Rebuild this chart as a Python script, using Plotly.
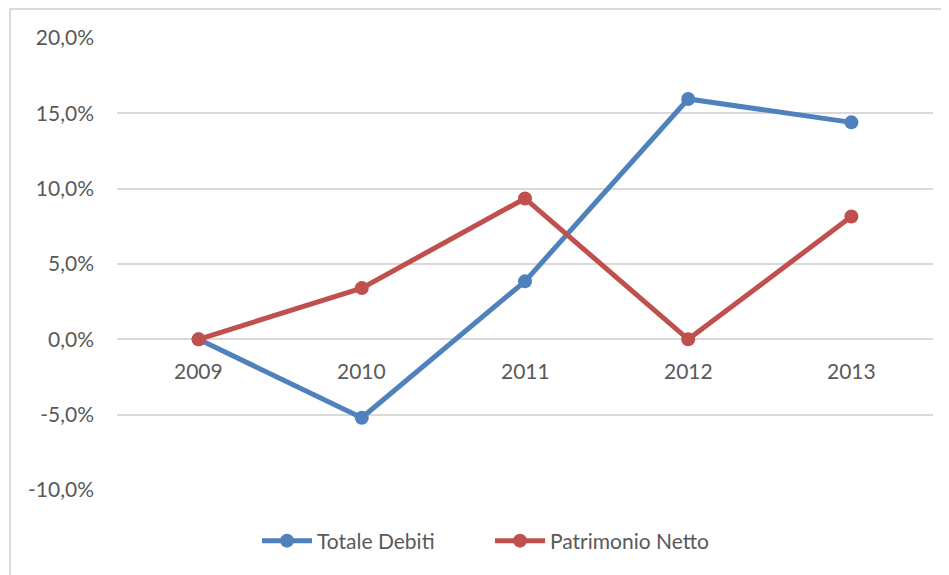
import plotly.graph_objects as go

years = ["2009", "2010", "2011", "2012", "2013"]
totale_debiti = [0.0, -5.2, 3.85, 15.95, 14.4]
patrimonio_netto = [0.0, 3.4, 9.35, 0.0, 8.15]
y_ticks = [-10, -5, 0, 5, 10, 15, 20]
y_tick_labels = ["-10,0%", "-5,0%", "0,0%", "5,0%", "10,0%", "15,0%", "20,0%"]

BLUE = "#4F81BD"
RED = "#C0504D"
GRID = "#D9D9D9"
TEXT = "#595959"
FONT = "Lato, 'Liberation Sans', sans-serif"

OFF = 8  # page body margin
W, H = 949, 575
L, R, T, B = 117 - OFF, 949 - (933 - OFF), 38 - OFF, 575 - (490 - OFF)
pw, ph = W - L - R, H - T - B

fig = go.Figure()
fig.add_trace(go.Scatter(x=years, y=totale_debiti, name="Totale Debiti", mode="lines+markers",
                         line=dict(color=BLUE, width=5), marker=dict(size=14, color=BLUE)))
fig.add_trace(go.Scatter(x=years, y=patrimonio_netto, name="Patrimonio Netto", mode="lines+markers",
                         line=dict(color=RED, width=5), marker=dict(size=14, color=RED)))

for i, yr in enumerate(years):
    fig.add_annotation(x=i, y=0, xref="x", yref="y", text=yr, showarrow=False,
                       yanchor="middle", yshift=-31, font=dict(family=FONT, size=21, color=TEXT))

def px_x(px):
    return (px - OFF - L) / pw

def px_y(py):
    return (H - B - (py - OFF)) / ph

fig.add_shape(type="line", xref="paper", yref="paper", x0=px_x(10), x1=px_x(970),
              y0=px_y(9), y1=px_y(9), line=dict(color=GRID, width=2))
fig.add_shape(type="line", xref="paper", yref="paper", x0=px_x(10), x1=px_x(10),
              y0=px_y(9), y1=px_y(600), line=dict(color=GRID, width=2))

fig.update_layout(
    width=W, height=H,
    margin=dict(l=L, r=R, t=T, b=B, autoexpand=False),
    paper_bgcolor="white", plot_bgcolor="white",
    font=dict(family=FONT, size=21, color=TEXT),
    xaxis=dict(type="category", showticklabels=False, showgrid=False, zeroline=False,
               showline=False, ticks="", range=[-0.5, 4.5]),
    yaxis=dict(range=[-10, 20], tickvals=y_ticks, ticktext=y_tick_labels, showgrid=True,
               gridcolor=GRID, gridwidth=2, zeroline=False, showline=False, ticks="",
               ticklabelstandoff=22, tickfont=dict(family=FONT, size=21, color=TEXT)),
    legend=dict(orientation="h", x=px_x(490), xanchor="center", y=px_y(541), yanchor="middle",
                font=dict(family=FONT, size=21, color=TEXT), itemwidth=50, entrywidth=168,
                bgcolor="rgba(0,0,0,0)"),
    showlegend=True,
)

fig.write_html("out.html")
